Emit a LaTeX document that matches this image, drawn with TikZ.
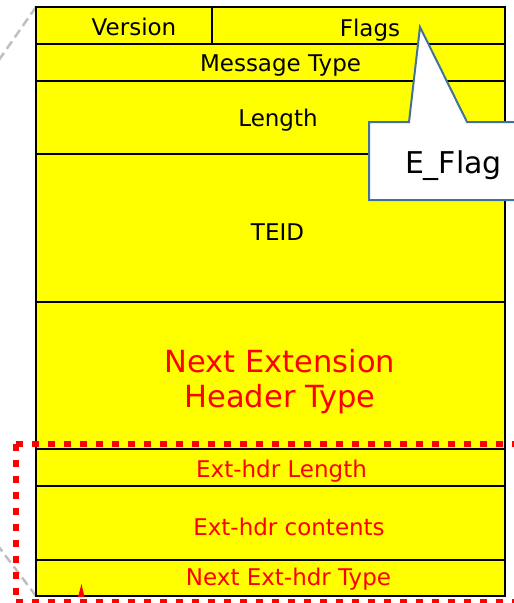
\documentclass[tikz,border=0pt]{standalone}
\usepackage{fontspec}
\setmainfont{DejaVu Sans}
\definecolor{fieldyellow}{HTML}{FFFF00}
\definecolor{hdrred}{HTML}{FF0000}
\definecolor{calloutblue}{HTML}{41719C}
\definecolor{guidegray}{HTML}{BFBFBF}
\tikzset{
  field/.style={fill=fieldyellow, draw=black, line width=2.5pt},
  sep/.style={draw=black, line width=2.5pt},
  blacklabel/.style={anchor=base, inner sep=0pt, text=black, font=\fontsize{23}{28}\selectfont},
  redlabel/.style={anchor=base, inner sep=0pt, text=hdrred, font=\fontsize{23}{28}\selectfont},
  biglabel/.style={anchor=base, inner sep=0pt, text=hdrred, align=center, font=\fontsize{30.5}{35}\selectfont},
  guide/.style={draw=guidegray, line width=2.5pt, dash pattern=on 9pt off 5pt},
  marker/.style={draw=hdrred, line width=6.5pt, dash pattern=on 7pt off 9pt},
  callout/.style={fill=white, draw=calloutblue, line width=2pt, line join=miter}
}
\begin{document}
\begin{tikzpicture}[x=1pt, y=-1pt]
\useasboundingbox (0,0) rectangle (514,603);
\clip (0,0) rectangle (514,603);

% zoom guide lines
\draw[guide] (36,7) -- (-20,87);
\draw[guide] (36,596) -- (-20,522);

% header frame and row separators
\draw[field] (36,7) rectangle (505,596);
\draw[sep] (212,7) -- (212,44);
\foreach \y in {44,81,154,302,449,486,560}
  \draw[sep] (36,\y) -- (505,\y);

% field labels
\node[blacklabel] (version) at (134,35.7) {Version};
\node[blacklabel] (flags) at (370,36) {Flags};
\node[blacklabel] (msgtype) at (280.5,71.7) {Message Type};
\node[blacklabel] (length) at (278,126.7) {Length};
\node[blacklabel] (teid) at (277.5,240.7) {TEID};
\node[biglabel] (nexttype) at (280,407) {Next Extension\\Header Type};
\node[redlabel] (extlen) at (281.5,477.3) {Ext-hdr Length};
\node[redlabel] (extcont) at (289,535) {Ext-hdr contents};
\node[redlabel] (extnext) at (288.5,585) {Next Ext-hdr Type};

% extension header highlight
\draw[marker] (16,444) -- (530,444);
\draw[marker] (16,444) -- (16,602);
\draw[marker] (16,602) -- (530,602);

% small pointer tip at the bottom
\fill[hdrred] (78,597) -- (81.5,584) -- (84.5,597) -- cycle;

% callout for the E flag
\coordinate (tip) at (420,27);
\draw[callout] (369,122) -- (409,122) -- (tip) -- (467,122) -- (530,122)
  -- (530,200) -- (369,200) -- cycle;
\node[anchor=base, inner sep=0pt, font=\fontsize{30}{36}\selectfont] (eflag) at (453.5,173) {E\_Flag};
\end{tikzpicture}
\end{document}
